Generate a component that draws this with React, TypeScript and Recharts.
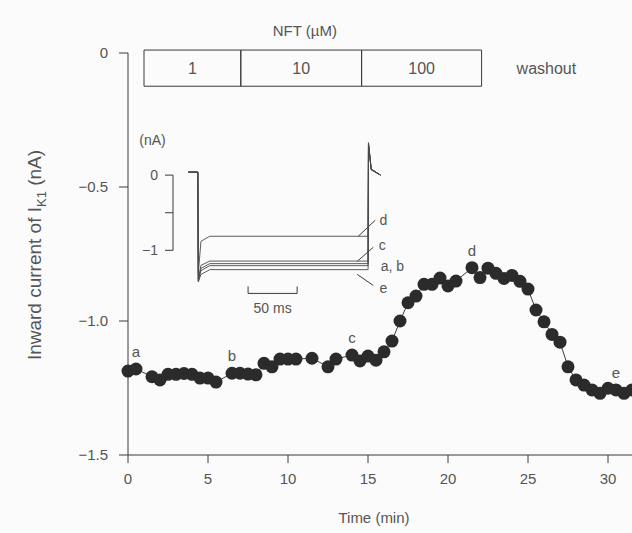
import {
  LineChart,
  Line,
  XAxis,
  YAxis,
  ReferenceArea,
  ReferenceLine,
  ReferenceDot,
  LabelList,
} from 'recharts'

// main time course (min, nA)
const minutes = [0, 0.5, 1.5, 2, 2.5, 3, 3.5, 4, 4.5, 5, 5.5, 6.5, 7, 7.5, 8, 8.5, 9, 9.5, 10, 10.5, 11.5, 12.5, 13, 14, 14.5, 15, 15.5, 16, 16.5, 17, 17.5, 18, 18.5, 19, 19.5, 20, 20.5, 21.5, 22, 22.5, 23, 23.5, 24, 24.5, 25, 25.5, 26, 26.5, 27, 27.5, 28, 28.5, 29, 29.5, 30, 30.5, 31, 31.5]
const current = [-1.187, -1.179, -1.208, -1.22, -1.199, -1.199, -1.196, -1.199, -1.213, -1.213, -1.228, -1.195, -1.195, -1.198, -1.201, -1.158, -1.171, -1.142, -1.142, -1.142, -1.139, -1.171, -1.142, -1.127, -1.149, -1.131, -1.146, -1.115, -1.075, -1.0, -0.932, -0.907, -0.863, -0.863, -0.84, -0.869, -0.851, -0.801, -0.838, -0.803, -0.822, -0.841, -0.83, -0.852, -0.881, -0.959, -1.003, -1.05, -1.079, -1.171, -1.22, -1.239, -1.257, -1.27, -1.251, -1.257, -1.27, -1.257]
const pointTags: Record<number, string> = { 0.5: 'a', 6.5: 'b', 14: 'c', 21.5: 'd', 30.5: 'e' }

const xTicks = [0, 5, 10, 15, 20, 25, 30]
const yTicks = [-1.5, -1, -0.5, 0]

// NFT application periods (min)
const doses = ['1', '10', '100']
const doseEdges = [1, 7.05, 14.6, 22.1]
const washoutEnd = 30.2

// inset current traces (ms, nA)
const sweepMs = [-10, -0.2, 0.3, 3, 12, 173.3, 173.7, 176.5, 186]
const traceA = [0.04, 0.04, -1.41, -1.24, -1.177, -1.177, 0.43, 0.08, 0]
const traceB = [0.04, 0.04, -1.4, -1.27, -1.204, -1.204, 0.42, 0.08, 0]
const traceC = [0.04, 0.04, -1.38, -1.2, -1.143, -1.143, 0.41, 0.07, 0]
const traceD = [0.04, 0.04, -1.3, -0.88, -0.813, -0.813, 0.4, 0.07, 0]
const traceE = [0.04, 0.04, -1.42, -1.32, -1.257, -1.257, 0.43, 0.08, 0]
const insetTicks = [0, -0.5, -1]

const data = minutes.map((t, i) => ({ t, v: current[i], tag: pointTags[t] }))
const traces = sweepMs.map((t, i) => ({
  t,
  a: traceA[i],
  b: traceB[i],
  c: traceC[i],
  d: traceD[i],
  e: traceE[i],
}))

const ink = '#3a3a3a'
const txt = '#555'
const font = 'Liberation Sans, Arial, sans-serif'

const fmtY = (v: number) => (v === 0 ? '0' : '\u2212' + Math.abs(v).toFixed(1))

const YLabel = () => (
  <text
    x={41}
    y={255}
    transform="rotate(-90 41 255)"
    textAnchor="middle"
    fill={txt}
    fontSize={19}
    fontFamily={font}
  >
    Inward current of I
    <tspan dy={5} fontSize={13}>K1</tspan>
    <tspan dy={-5}> (nA)</tspan>
  </text>
)

export default function App() {
  return (
    <div style={{ position: 'absolute', left: 0, top: 0, width: 632, height: 533, background: '#fbfbfb', fontFamily: font }}>
      <LineChart width={632} height={533} data={data} margin={{ top: 53, right: 0, left: 0, bottom: 0 }}>
        <XAxis
          dataKey="t"
          type="number"
          domain={[0, 31.5]}
          ticks={xTicks}
          height={78}
          tickSize={8}
          tickMargin={10}
          stroke={ink}
          tick={{ fill: txt, fontSize: 15 }}
          label={{ value: 'Time (min)', position: 'insideBottom', offset: 10, fill: txt, fontSize: 15, dx: -6 }}
        />
        <YAxis
          type="number"
          domain={[-1.5, 0]}
          ticks={yTicks}
          width={128}
          tickSize={9}
          tickMargin={11}
          stroke={ink}
          tickFormatter={fmtY}
          tick={{ fill: txt, fontSize: 15 }}
          label={{ content: <YLabel /> }}
        />
        {doses.map((d, i) => (
          <ReferenceArea
            key={d}
            x1={doseEdges[i]}
            x2={doseEdges[i + 1]}
            y1={-0.124}
            y2={0.011}
            ifOverflow="visible"
            fill="none"
            stroke={ink}
            strokeWidth={1}
            label={{ value: d, position: 'center', fill: txt, fontSize: 16 }}
          />
        ))}
        <ReferenceArea
          x1={doseEdges[3]}
          x2={washoutEnd}
          y1={-0.124}
          y2={0.011}
          ifOverflow="visible"
          fill="none"
          stroke="none"
          label={{ value: 'washout', position: 'center', fill: txt, fontSize: 16 }}
        />
        <ReferenceArea
          x1={doseEdges[0]}
          x2={21.1}
          y1={-0.124}
          y2={0.011}
          ifOverflow="visible"
          fill="none"
          stroke="none"
          label={{ value: 'NFT (\u00b5M)', position: 'top', offset: 14, fill: txt, fontSize: 15 }}
        />
        <Line
          dataKey="v"
          type="linear"
          stroke={ink}
          strokeWidth={1}
          dot={{ r: 6.5, fill: '#2b2b2b', stroke: 'none' }}
          isAnimationActive={false}
        >
          <LabelList dataKey="tag" position="top" offset={12} fill={txt} fontSize={15} />
        </Line>
      </LineChart>

      <div style={{ position: 'absolute', left: 120, top: 130 }}>
        <LineChart width={289} height={188} data={traces} margin={{ top: 0, right: 0, left: 0, bottom: 0 }}>
          <XAxis dataKey="t" type="number" domain={[-25.5, 215]} hide />
          <YAxis
            type="number"
            domain={[-1.9, 0.6]}
            ticks={insetTicks}
            width={53}
            axisLine={false}
            tickSize={8}
            tickMargin={7}
            stroke={ink}
            tickFormatter={(v: number) => (v === 0 ? '0' : v === -1 ? '\u22121' : '')}
            tick={{ fill: txt, fontSize: 14 }}
            label={{ value: '(nA)', position: 'insideTop', offset: 5, dx: 6, fill: txt, fontSize: 14 }}
          />
          <ReferenceLine segment={[{ x: -25.5, y: 0 }, { x: -25.5, y: -1 }]} stroke={ink} ifOverflow="visible" />
          <ReferenceLine segment={[{ x: 51, y: -1.573 }, { x: 101, y: -1.573 }]} stroke={ink} ifOverflow="visible" />
          <ReferenceLine segment={[{ x: 51, y: -1.573 }, { x: 51, y: -1.48 }]} stroke={ink} ifOverflow="visible" />
          <ReferenceLine segment={[{ x: 101, y: -1.573 }, { x: 101, y: -1.48 }]} stroke={ink} ifOverflow="visible" />
          <ReferenceDot x={76} y={-1.77} r={0} ifOverflow="visible" label={{ value: '50 ms', position: 'center', fill: txt, fontSize: 14 }} />
          <ReferenceLine segment={[{ x: 163.3, y: -0.813 }, { x: 180.6, y: -0.6 }]} stroke={ink} ifOverflow="visible" />
          <ReferenceLine segment={[{ x: 162.2, y: -1.147 }, { x: 178.6, y: -0.96 }]} stroke={ink} ifOverflow="visible" />
          <ReferenceLine segment={[{ x: 162.2, y: -1.32 }, { x: 178.6, y: -1.467 }]} stroke={ink} ifOverflow="visible" />
          <ReferenceDot x={188.8} y={-0.6} r={0} ifOverflow="visible" label={{ value: 'd', position: 'center', fill: txt, fontSize: 14 }} />
          <ReferenceDot x={187.8} y={-0.933} r={0} ifOverflow="visible" label={{ value: 'c', position: 'center', fill: txt, fontSize: 14 }} />
          <ReferenceDot x={198} y={-1.213} r={0} ifOverflow="visible" label={{ value: 'a, b', position: 'center', fill: txt, fontSize: 14 }} />
          <ReferenceDot x={188.8} y={-1.507} r={0} ifOverflow="visible" label={{ value: 'e', position: 'center', fill: txt, fontSize: 14 }} />
          {['a', 'b', 'c', 'd', 'e'].map((k) => (
            <Line key={k} dataKey={k} type="linear" stroke="#4a4a4a" strokeWidth={0.9} dot={false} isAnimationActive={false} />
          ))}
        </LineChart>
      </div>
    </div>
  )
}
